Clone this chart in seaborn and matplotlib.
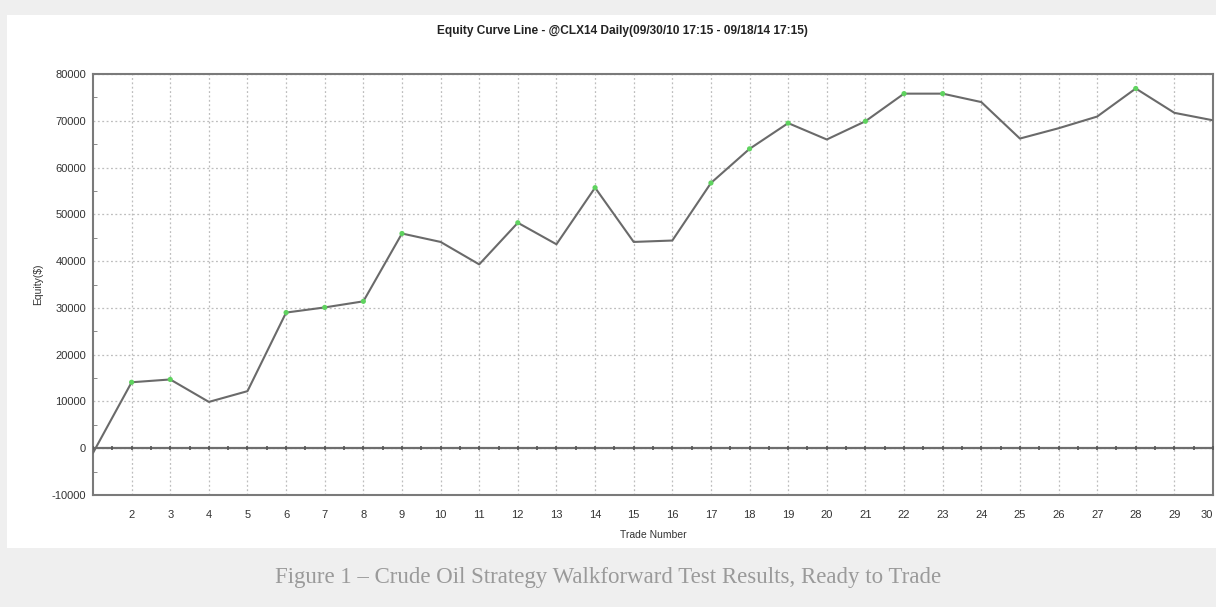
import numpy as np
import pandas as pd
import matplotlib
matplotlib.use("Agg")
import matplotlib.pyplot as plt
from matplotlib.patches import Rectangle
import seaborn as sns

# ---- data ----
trade_number = list(range(1, 31))
equity = [-1000, 14100, 14700, 9900, 12200, 29000, 30100, 31400, 45900, 44100,
          39300, 48200, 43600, 55700, 44100, 44400, 56700, 64000, 69500, 66000,
          69900, 75800, 75800, 74000, 66200, 68400, 70900, 76900, 71700, 70100]
new_high = [0, 1, 1, 0, 0, 1, 1, 1, 1, 0,
            0, 1, 0, 1, 0, 0, 1, 1, 1, 0,
            1, 1, 1, 0, 0, 0, 0, 1, 0, 0]
x_tick_labels = [str(i) for i in range(2, 31)]
y_ticks = [-10000, 0, 10000, 20000, 30000, 40000, 50000, 60000, 70000, 80000]

title = "Equity Curve Line - @CLX14 Daily(09/30/10 17:15 - 09/18/14 17:15)"
caption = "Figure 1 \u2013 Crude Oil Strategy Walkforward Test Results, Ready to Trade"

df = pd.DataFrame({"trade": trade_number, "equity": equity, "high": new_high})

sns.set_style("white")
plt.rcParams["font.family"] = ["Liberation Sans", "DejaVu Sans"]
plt.rcParams["axes.unicode_minus"] = False

W, H = 1216, 607
fig = plt.figure(figsize=(W / 100, H / 100), dpi=100, facecolor="#efefef")
# white chart panel
fig.patches.append(Rectangle((7 / W, 1 - 548 / H), 1.0, (548 - 15) / H,
                             transform=fig.transFigure, facecolor="white",
                             edgecolor="none", zorder=-5))

ax = fig.add_axes([93 / W, 1 - 495 / H, (1213 - 93) / W, (495 - 74) / H])
ax.set_facecolor("white")
ax.set_zorder(2)

# grid
ax.set_xticks(trade_number)
ax.set_yticks(y_ticks)
ax.grid(True, color="#bdbdbd", linestyle=(0, (1.5, 2)), linewidth=0.9)

# zero line with small ticks
ax.axhline(0, color="#6e6e6e", linewidth=1.6, zorder=2)
half_steps = np.arange(1, 30.01, 0.5)
ax.plot(half_steps, np.zeros_like(half_steps), linestyle="none", marker="|",
        markersize=3, color="#555555", markeredgewidth=1.2, zorder=3)

sns.lineplot(data=df, x="trade", y="equity", ax=ax, color="#6a6a6a",
             linewidth=1.5, zorder=4)
sns.scatterplot(data=df[df["high"] == 1], x="trade", y="equity", ax=ax,
                color="#5fd35f", s=14, edgecolor="none", zorder=5)

ax.set_xlim(1, 30)
ax.set_ylim(-10000, 80000)
ax.set_xticks(list(range(2, 31)))
ax.set_xticklabels(x_tick_labels)
ax.set_xticks(trade_number, minor=True)
ax.set_yticks(np.arange(-10000, 80001, 5000), minor=True)
ax.tick_params(axis="y", which="minor", direction="in", length=3, color="#777777", left=True)
ax.tick_params(axis="both", which="major", length=0, labelsize=8,
               labelcolor="#333333")
ax.tick_params(axis="y", which="major", pad=5)
ax.tick_params(axis="x", which="major", pad=11)
ax.tick_params(axis="x", which="minor", length=0)
ax.get_xticklabels()[-1].set_ha("right")

for s in ax.spines.values():
    s.set_color("#7a7a7a")
    s.set_linewidth(1.5)

ax.set_xlabel("Trade Number", fontsize=7.5, color="#333333", labelpad=7)
ax.set_ylabel("Equity($)", fontsize=7.5, color="#333333", labelpad=6)

fig.text(622 / W, 1 - 31 / H, title, ha="center", va="center",
         fontsize=8.6, fontweight="bold", color="#222222")
fig.text(608 / W, 1 - 577 / H, caption, ha="center", va="center",
         fontsize=16.5, color="#9a9a9a", family=["Liberation Serif", "DejaVu Serif"])

fig.savefig("out.png", dpi=100, facecolor=fig.get_facecolor())
